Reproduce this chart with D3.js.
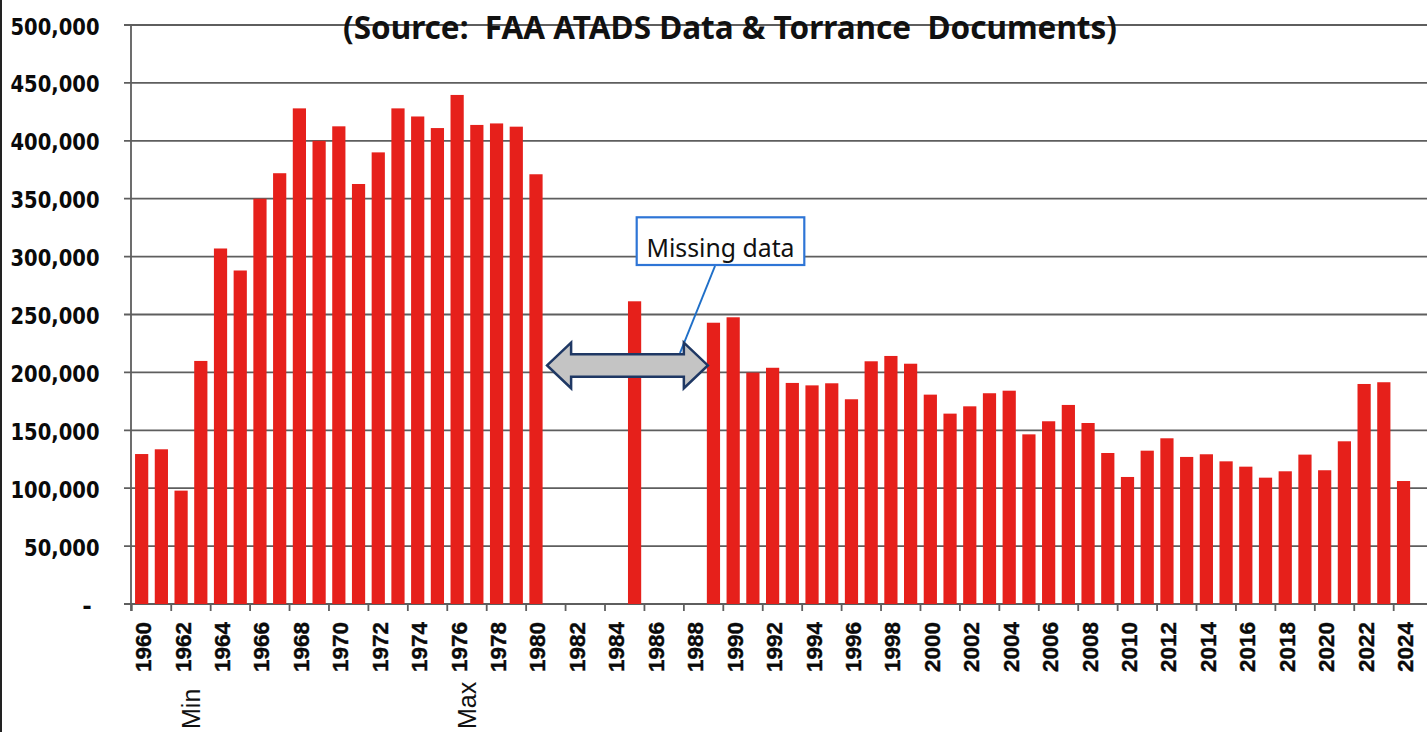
<!DOCTYPE html>
<html><head><meta charset="utf-8">
<script src="https://cdn.jsdelivr.net/npm/d3@7"></script>
<style>body{margin:0;background:#fff} svg{display:block}</style>
</head><body><svg id="c" width="1427" height="732"></svg>
<script>
const years = [1960,1961,1962,1963,1964,1965,1966,1967,1968,1969,1970,1971,1972,1973,1974,1975,1976,1977,1978,1979,1980,1981,1982,1983,1984,1985,1986,1987,1988,1989,1990,1991,1992,1993,1994,1995,1996,1997,1998,1999,2000,2001,2002,2003,2004,2005,2006,2007,2008,2009,2010,2011,2012,2013,2014,2015,2016,2017,2018,2019,2020,2021,2022,2023,2024];
const operations = [129500,133600,97900,209900,307000,288000,350000,372000,428000,400000,412500,362700,390000,428000,421000,411000,439600,413700,415000,412200,371100,null,null,null,null,261400,null,null,null,242900,247600,199800,204000,190900,188800,190600,176800,209600,214200,207500,180800,164400,170700,182000,184200,146500,157800,171900,156300,130400,109700,132400,143100,127000,129300,123200,118600,109100,114600,129000,115500,140500,190000,191500,106200];
const yTicks = [0,50000,100000,150000,200000,250000,300000,350000,400000,450000,500000];
const xLabelYears = [1960,1962,1964,1966,1968,1970,1972,1974,1976,1978,1980,1982,1984,1986,1988,1990,1992,1994,1996,1998,2000,2002,2004,2006,2008,2010,2012,2014,2016,2018,2020,2022,2024];
const extremeLabels = [{year:1962, text:"Min"},{year:1976, text:"Max"}];
const titleText = "(Source:  FAA ATADS Data & Torrance  Documents)";
const calloutText = "Missing data";
const gapFrom = 1980, gapTo = 1989, gapLevel = 206000;

const svg = d3.select("#c");
const x = d3.scaleBand().domain(years).range([131.8, 1413.4]).paddingInner(0.33).paddingOuter(0.165);
const y = d3.scaleLinear().domain([0, 500000]).range([604, 25]);
const gridColor = "#5e5e5e";
const gap = x.step() - x.bandwidth();

// left frame line
svg.append("line").attr("x1",1).attr("x2",1).attr("y1",0).attr("y2",732).attr("stroke","#222").attr("stroke-width",2);

// gridlines
svg.append("g").selectAll("line").data(yTicks).join("line")
  .attr("x1",124).attr("x2",1427)
  .attr("y1",d=>y(d)).attr("y2",d=>y(d))
  .attr("stroke",gridColor).attr("stroke-width",1.8);

// y axis line
svg.append("line").attr("x1",131).attr("x2",131).attr("y1",y(500000)).attr("y2",611)
  .attr("stroke",gridColor).attr("stroke-width",1.8);

// x ticks every 2 categories
const tickYears = years.filter((d,i)=>i%2===0);
svg.append("g").selectAll("line").data(tickYears).join("line")
  .attr("x1",d=>x(d)-gap/2).attr("x2",d=>x(d)-gap/2)
  .attr("y1",604).attr("y2",611)
  .attr("stroke",gridColor).attr("stroke-width",1.8);

// y labels
const yl = svg.append("g").selectAll("text").data(yTicks).join("text")
  .attr("x",d=>d===0?87:99.5).attr("y",d=>y(d)+1.5)
  .attr("text-anchor",d=>d===0?"middle":"end")
  .attr("dominant-baseline","central")
  .attr("font-family","DejaVu Sans").attr("font-weight","bold").attr("font-size",23)
  .attr("fill","#0a0a0a")
  .text(d=>d===0?"-":d3.format(",")(d));
yl.each(function(d){ if(d!==0){ const L=this.getComputedTextLength(); this.setAttribute("textLength",L*0.85); this.setAttribute("lengthAdjust","spacingAndGlyphs"); }});

// bars
svg.append("g").selectAll("rect").data(years.map((yr,i)=>({yr,v:operations[i]})).filter(d=>d.v!==null)).join("rect")
  .attr("x",d=>x(d.yr)).attr("width",x.bandwidth())
  .attr("y",d=>y(d.v)).attr("height",d=>y(0)-y(d.v))
  .attr("fill","#e6201b");

// x labels
svg.append("g").selectAll("text").data(xLabelYears).join("text")
  .attr("transform",d=>`translate(${x(d)+x.bandwidth()/2+9.5},622) rotate(-90)`)
  .attr("text-anchor","end")
  .attr("font-family","Liberation Sans").attr("font-weight","bold").attr("font-size",22.5)
  .attr("stroke","#0a0a0a").attr("stroke-width",0.4)
  .attr("fill","#0a0a0a")
  .text(d=>d);

svg.append("g").selectAll("text").data(extremeLabels).join("text")
  .attr("transform",d=>`translate(${x(d.year)+x.bandwidth()/2+18.7},729) rotate(-90)`)
  .attr("text-anchor","start")
  .attr("font-family","Liberation Sans").attr("font-size",25)
  .attr("fill","#111")
  .text(d=>d.text);

// title
svg.append("text").attr("x",730).attr("y",39).attr("text-anchor","middle")
  .attr("xml:space","preserve").style("white-space","pre")
  .attr("font-family","Noto Sans").attr("font-weight","bold").attr("font-size",33)
  .attr("textLength",774).attr("lengthAdjust","spacingAndGlyphs")
  .attr("fill","#111").text(titleText);

// callout leader line
svg.append("line").attr("x1",715).attr("y1",266).attr("x2",680).attr("y2",353)
  .attr("stroke","#1f6fc8").attr("stroke-width",2);

// double arrow
const L = x(gapFrom)+x.bandwidth()+4.5, R = x(gapTo)+1, cy = y(gapLevel);
const hl = 24, hh = 22.8, sh = 11.3;
const pts = [[L,cy],[L+hl,cy-hh],[L+hl,cy-sh],[R-hl,cy-sh],[R-hl,cy-hh],[R,cy],[R-hl,cy+hh],[R-hl,cy+sh],[L+hl,cy+sh],[L+hl,cy+hh]];
svg.append("path").attr("d",d3.line()(pts)+"Z")
  .attr("fill","#c4c4c4").attr("stroke","#1f3864").attr("stroke-width",2.5).attr("stroke-linejoin","miter");

// callout box
svg.append("rect").attr("x",636.7).attr("y",217.3).attr("width",167.6).attr("height",47.7)
  .attr("fill","#fff").attr("stroke","#2e75d6").attr("stroke-width",2.2);
svg.append("text").attr("x",720.5).attr("y",256.5).attr("text-anchor","middle")
  .attr("font-family","Noto Sans").attr("font-size",25)
  .attr("textLength",148).attr("lengthAdjust","spacingAndGlyphs")
  .attr("fill","#111").text(calloutText);
</script></body></html>
